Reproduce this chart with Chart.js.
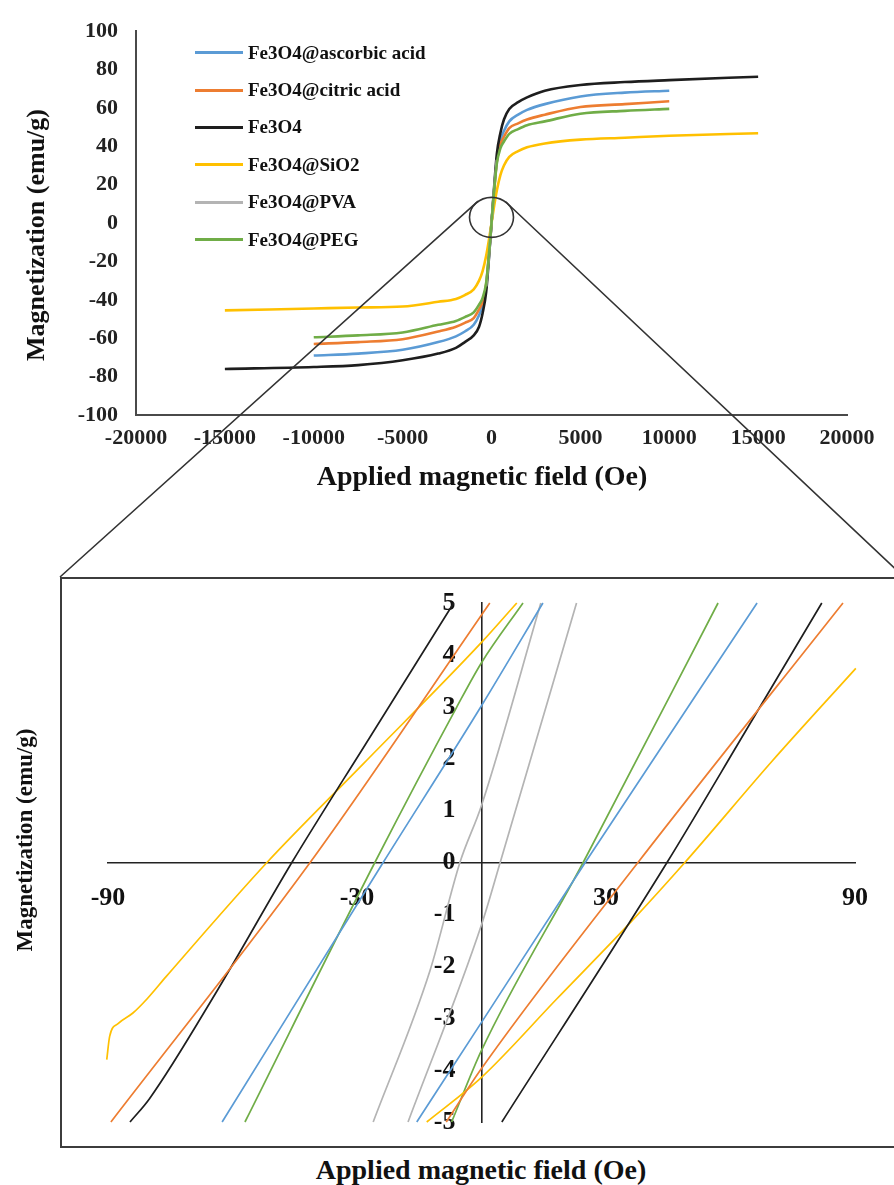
<!DOCTYPE html>
<html lang="en">
<head>
<meta charset="UTF-8">
<title>Magnetization curves</title>
<script src="https://cdn.jsdelivr.net/npm/chart.js@4.4.0/dist/chart.umd.min.js"></script>
<style>
    body {
        margin: 0;
        width: 894px;
        height: 1185px;
        overflow: hidden;
        position: relative;
        background: #fff;
        font-family: "Liberation Serif", "Times New Roman", serif;
        color: #111;
    }
    #topWrap { position: absolute; left: 0; top: 0; width: 894px; height: 500px; }
    #zoomBox {
        position: absolute; left: 60px; top: 577px; width: 844px; height: 571px;
        border: 2px solid #3c3c3c; box-sizing: border-box;
    }
    #botWrap { position: absolute; left: 0; top: 577px; width: 894px; height: 571px; }
    #overlay { position: absolute; left: 0; top: 0; pointer-events: none; }
    #legend { position: absolute; left: 195px; top: 34px; }
    .lg-row { display: flex; align-items: center; height: 37.4px; font-weight: bold; font-size: 19px; white-space: nowrap; }
    .lg-line { width: 48px; height: 3px; margin-right: 5px; }
    .ttl { position: absolute; font-weight: bold; white-space: nowrap; }
</style>
</head>
<body>
    <div id="topWrap"><canvas id="topChart"></canvas></div>
    <div id="legend"></div>
    <div id="zoomBox"></div>
    <div id="botWrap"><canvas id="zoomChart"></canvas></div>
    <div class="ttl" style="font-size:26px; left:36px; top:235px; transform:translate(-50%,-50%) rotate(-90deg);">Magnetization (emu/g)</div>
    <div class="ttl" style="font-size:28px; left:482px; top:476px; transform:translate(-50%,-50%);">Applied magnetic field (Oe)</div>
    <div class="ttl" style="font-size:28px; left:481px; top:1170px; transform:translate(-50%,-50%);">Applied magnetic field (Oe)</div>
    <div class="ttl" style="font-size:23px; left:25px; top:840px; transform:translate(-50%,-50%) rotate(-90deg);">Magnetization (emu/g)</div>
    <canvas id="overlay" width="894" height="1185"></canvas>

<script>
    const materials = ["Fe3O4@ascorbic acid", "Fe3O4@citric acid", "Fe3O4", "Fe3O4@SiO2", "Fe3O4@PVA", "Fe3O4@PEG"]
    const seriesColors = ["#5b9bd5", "#ed7d31", "#1e1e1e", "#ffc000", "#b4b4b4", "#70ad47"]

    // full loops, field in Oe
    const topField = [-15000, -10000, -7500, -5000, -3000, -2000, -1500, -1000, -700, -500, -300, -150, 0,
        150, 300, 500, 700, 1000, 1500, 2000, 3000, 5000, 7500, 10000, 15000]
    const mAscorbic = [null, -69, -68, -66, -62, -59, -56.5, -53, -48, -43, -33, -18, 0,
        18, 33, 43, 48, 53, 56.5, 59, 62, 66, 68, 69, null]
    const mCitric = [null, -63, -62, -60.5, -56.5, -54, -52, -49.5, -45, -41, -32, -17, 0,
        17, 32, 41, 45, 49.5, 52, 54, 56.5, 60.5, 62, 63.5, null]
    const mBare = [-76, -75, -74, -71.5, -68, -65, -62, -58.5, -54, -47, -36, -19, 0,
        19, 36, 47, 54, 59.5, 63, 65.5, 69, 72, 73.5, 74.5, 76.3]
    const mSiO2 = [-45.5, -44.5, -44, -43.5, -41, -39.5, -37.5, -34.5, -30, -25, -17, -9, 0,
        9, 17, 25, 30, 34.5, 37.5, 39.5, 41.5, 43.5, 44.5, 45.5, 46.8]
    const mPVA = [null, null, null, null, null, null, null, null, null, null, -33, -18, 0,
        18, 33, null, null, null, null, null, null, null, null, null, null]
    const mPEG = [null, -59.5, -58.5, -57, -53, -51, -49, -46.5, -42.5, -39, -31, -17, 0,
        17, 31, 39, 42.5, 46.5, 49, 51, 53, 57, 58.5, 59.5, null]

    // low-field branches [H (Oe), M (emu/g)]
    const ascorbicA = [[-62.5, -5], [-23.7, 0], [0, 3.02], [14.8, 5]]
    const ascorbicB = [[-15.6, -5], [0, -3.08], [25, 0], [66.4, 5]]
    const citricA = [[-89.3, -5], [-41.3, 0], [2, 5]]
    const citricB = [[-8.5, -5], [0, -3.97], [37.7, 0], [87.1, 5]]
    const bareA = [[-84.7, -5], [-80, -4.55], [-63.7, -2.47], [-45.7, 0], [-27, 2.4], [-6.7, 5]]
    const bareB = [[4.9, -5], [44.7, 0], [63.4, 2.5], [82, 5]]
    const silicaA = [[-90.3, -3.8], [-89.6, -3.35], [-87.5, -3.1], [-84, -2.9], [-80.5, -2.62], [-76, -2.2],
        [-51.7, 0], [-28.5, 1.9], [0, 4.24], [8.5, 5]]
    const silicaB = [[-13.2, -5], [0, -4.14], [18, -2.64], [36.3, -1.12], [49, 0], [70, 1.95], [90.2, 3.74]]
    const pvaA = [[-26.1, -5], [-12.4, -2.08], [-5.2, 0], [0, 1.1], [14.3, 5]]
    const pvaB = [[-17.7, -5], [0, -1.2], [4.5, 0], [22.9, 5]]
    const pegA = [[-57, -5], [-25.7, 0], [-6, 2.99], [0, 3.85], [10, 5]]
    const pegB = [[-7.2, -5], [0, -3.62], [24.5, 0], [57, 5]]

    const topSeries = [mAscorbic, mCitric, mBare, mSiO2, mPVA, mPEG]
    const zoomSeries = [[ascorbicA, ascorbicB], [citricA, citricB], [bareA, bareB],
        [silicaA, silicaB], [pvaA, pvaB], [pegA, pegB]]

    const serif = "'Liberation Serif', 'Times New Roman', serif"

    function toPoints(xs, ys) {
        let pts = []
        for (let i = 0; i < xs.length; i++) {
            if (ys[i] !== null) pts.push({ x: xs[i], y: ys[i] })
        }
        return pts
    }

    // legend
    let lg = document.getElementById('legend')
    for (let i = 0; i < materials.length; i++) {
        let row = document.createElement('div')
        row.className = 'lg-row'
        row.innerHTML = '<span class="lg-line" style="background:' + seriesColors[i] + '"></span>' + materials[i]
        lg.appendChild(row)
    }

    let topSets = []
    for (let i = 0; i < materials.length; i++) {
        topSets.push({
            label: materials[i],
            data: toPoints(topField, topSeries[i]),
            borderColor: seriesColors[i],
            borderWidth: 2.6,
            pointRadius: 0,
            cubicInterpolationMode: 'monotone',
            order: materials.length - i
        })
    }

    const topChart = new Chart(document.getElementById('topChart'), {
        type: 'line',
        data: { datasets: topSets },
        options: {
            animation: false,
            responsive: true,
            maintainAspectRatio: false,
            layout: { padding: { top: 27, right: 47, left: 0, bottom: 0 } },
            plugins: { legend: { display: false }, tooltip: { enabled: false } },
            scales: {
                x: {
                    type: 'linear', min: -20000, max: 20000,
                    ticks: { stepSize: 5000, padding: 10, color: '#222', font: { family: serif, size: 22, weight: 'bold' },
                        callback: v => String(v) },
                    grid: { display: false, drawTicks: false, tickLength: 0 },
                    border: { color: '#4a4a4a', width: 2 },
                    afterFit: function (s) { s.height = 85 }
                },
                y: {
                    type: 'linear', min: -100, max: 100,
                    ticks: { stepSize: 20, padding: 18, color: '#222', font: { family: serif, size: 22, weight: 'bold' } },
                    grid: { display: false, drawTicks: false, tickLength: 0 },
                    border: { color: '#4a4a4a', width: 2 },
                    afterFit: function (s) { s.width = 136 }
                }
            }
        }
    })

    let zoomSets = []
    for (let i = 0; i < materials.length; i++) {
        for (let b = 0; b < 2; b++) {
            zoomSets.push({
                label: materials[i],
                data: zoomSeries[i][b].map(p => ({ x: p[0], y: p[1] })),
                borderColor: seriesColors[i],
                borderWidth: 1.7,
                pointRadius: 0,
                cubicInterpolationMode: 'monotone',
                clip: false
            })
        }
    }

    const zoomChart = new Chart(document.getElementById('zoomChart'), {
        type: 'line',
        data: { datasets: zoomSets },
        options: {
            animation: false,
            responsive: true,
            maintainAspectRatio: false,
            layout: { padding: { top: 26, right: 39, left: 108, bottom: 26 } },
            plugins: { legend: { display: false }, tooltip: { enabled: false } },
            scales: {
                x: {
                    type: 'linear', min: -90, max: 90, position: { y: 0 },
                    ticks: { stepSize: 60, padding: 20, color: '#111', font: { family: serif, size: 26, weight: 'bold' } },
                    grid: { display: false, drawTicks: false, tickLength: 0 },
                    border: { color: '#222', width: 1.6 },
                    afterFit: function (s) { s.height = 0 }
                },
                y: {
                    type: 'linear', min: -5, max: 5, position: { x: 0 },
                    // labels sit right-aligned on the axis line, the em space keeps them off it
                    ticks: { stepSize: 1, color: '#111', font: { family: serif, size: 26, weight: 'bold' },
                        callback: v => v + '\u2003' },
                    grid: { display: false, drawTicks: false, tickLength: 0 },
                    border: { color: '#222', width: 1.6 },
                    afterFit: function (s) { s.width = 0 }
                }
            }
        }
    })

    // magnifier circle and the two lines down to the zoom box
    function drawZoomLinks() {
        const ov = document.getElementById('overlay')
        const ctx = ov.getContext('2d')
        ctx.clearRect(0, 0, ov.width, ov.height)
        const cx = topChart.scales.x.getPixelForValue(0)
        const cy = topChart.scales.y.getPixelForValue(3)
        const r = 21
        const box = document.getElementById('zoomBox')
        const bl = { x: box.offsetLeft, y: box.offsetTop }
        const br = { x: box.offsetLeft + box.offsetWidth, y: box.offsetTop }

        ctx.strokeStyle = '#333'
        ctx.lineWidth = 1.6
        ctx.beginPath()
        ctx.ellipse(cx, cy, r + 1, r - 1, 0, 0, Math.PI * 2)
        ctx.stroke()

        function touch(corner) {
            const dx = cx - corner.x, dy = cy - corner.y
            const d = Math.hypot(dx, dy)
            // perpendicular on the upper side of the circle
            let px = dy / d, py = -dx / d
            if (py > 0) { px = -px; py = -py }
            return { x: cx + px * r, y: cy + py * r }
        }
        const pl = touch(bl)
        const pr = touch(br)
        ctx.beginPath()
        ctx.moveTo(pl.x, pl.y)
        ctx.lineTo(bl.x, bl.y)
        ctx.moveTo(pr.x, pr.y)
        ctx.lineTo(br.x, br.y)
        ctx.stroke()
    }
    drawZoomLinks()
</script>
</body>
</html>
